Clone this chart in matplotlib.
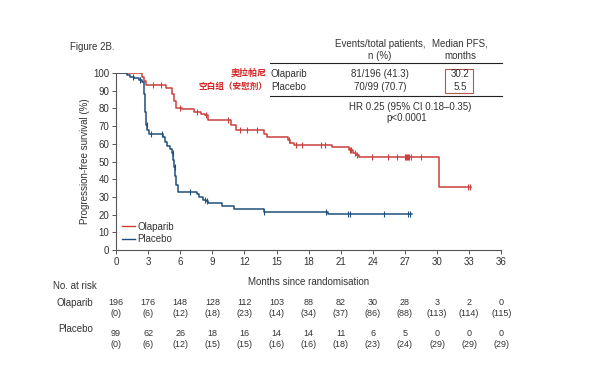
import numpy as np
import matplotlib
matplotlib.use("Agg")
import matplotlib.pyplot as plt
from matplotlib.lines import Line2D
from matplotlib.patches import Rectangle
from matplotlib.transforms import blended_transform_factory

plt.rcParams['font.family'] = ['Liberation Sans', 'Noto Sans CJK SC', 'DejaVu Sans']

# Kaplan-Meier steps (time a level starts, survival %)
ola_t = [0, 2.4, 2.6, 2.8, 4.7, 5.2, 5.4, 5.6, 6.2, 7.3, 7.9, 8.3, 8.6, 10.7, 11.2,
         13.8, 14.1, 16.1, 16.3, 16.6, 20.2, 21.8, 22.1, 22.4, 22.7, 30.2, 33.2]
ola_s = [100, 98, 95.5, 93, 91.5, 88, 84, 80.5, 79.5, 78, 77, 76, 73.4, 70.5, 67.8,
         65.5, 63.6, 62, 60.5, 59.3, 58, 56.5, 55, 53.5, 52.7, 35.4, 35.4]
ola_cens = [3.5, 4.2, 6.0, 7.6, 8.4, 10.5, 11.6, 12.2, 13.2, 16.2, 16.8, 17.4, 19.2,
            19.5, 21.9, 22.0, 22.3, 22.5, 23.9, 25.4, 26.3, 27.0, 27.1, 27.2, 27.3,
            27.4, 27.6, 28.5, 32.9, 33.1]

pla_t = [0, 1.0, 1.3, 1.7, 2.1, 2.4, 2.6, 2.7, 2.8, 2.9, 3.1, 4.4, 4.6, 4.8, 5.0,
         5.2, 5.35, 5.45, 5.55, 5.6, 5.8, 7.6, 7.8, 8.1, 8.4, 8.6, 9.9, 11.0, 13.8,
         19.8, 27.7]
pla_s = [100, 99, 98, 97, 96, 95, 88, 78, 70.6, 68, 65.5, 64, 61, 59, 57,
         55, 51, 47, 42, 36.5, 33, 31.6, 30, 28.5, 27.5, 26.4, 24.9, 23.2, 21.6,
         20.2, 20.2]
pla_cens = [1.6, 2.2, 2.85, 3.3, 4.3, 5.3, 5.5, 6.9, 8.3, 8.5, 13.8, 19.6, 21.7,
            21.9, 25.0, 27.3, 27.5]

# number at risk table
risk_months = list(range(0, 37, 3))
ola_risk = [196, 176, 148, 128, 112, 103, 88, 82, 30, 28, 3, 2, 0]
ola_cum = [0, 6, 12, 18, 23, 14, 34, 37, 86, 88, 113, 114, 115]
pla_risk = [99, 62, 26, 18, 16, 14, 14, 11, 6, 5, 0, 0, 0]
pla_cum = [0, 6, 12, 15, 15, 16, 16, 18, 23, 24, 29, 29, 29]

RED = '#c8413c'
BLUE = '#1f4f7c'
TXT = '#333333'


def level_at(t, times, surv):
    idx = np.searchsorted(times, t, side='right') - 1
    return np.asarray(surv)[idx]


fig = plt.figure(figsize=(5.89, 3.85), dpi=100)
ax = fig.add_axes([0.197, 0.3506, 0.654, 0.4598])

ax.step(ola_t, ola_s, where='post', color=RED, lw=1.1)
ax.step(pla_t, pla_s, where='post', color=BLUE, lw=1.1)
ax.plot(ola_cens, level_at(ola_cens, ola_t, ola_s), ls='none', marker='|',
        ms=4, mew=0.8, color=RED)
ax.plot(pla_cens, level_at(pla_cens, pla_t, pla_s), ls='none', marker='|',
        ms=4, mew=0.8, color=BLUE)

ax.set_xlim(0, 36)
ax.set_ylim(0, 100)
ax.set_xticks(risk_months)
ax.set_yticks(range(0, 101, 10))
for s in ['top', 'right']:
    ax.spines[s].set_visible(False)
for s in ['left', 'bottom']:
    ax.spines[s].set_color('#555555')
    ax.spines[s].set_linewidth(0.8)
ax.tick_params(direction='out', length=3, width=0.7, colors='#555555',
               labelsize=7, labelcolor=TXT, pad=2)
ax.set_xlabel('Months since randomisation', fontsize=7, color=TXT, labelpad=7)
ax.set_ylabel('Progression-free survival (%)', fontsize=7, color=TXT, labelpad=2)

handles = [Line2D([], [], color=RED, lw=1.0), Line2D([], [], color=BLUE, lw=1.0)]
ax.legend(handles, ['Olaparib', 'Placebo'], loc='lower left', frameon=False,
          fontsize=7, handlelength=1.4, handletextpad=0.2, labelspacing=0.25,
          bbox_to_anchor=(0.0, 0.0), borderaxespad=0.2, labelcolor=TXT)

# header / summary table
fig.text(0.119, 0.878, 'Figure 2B.', fontsize=7, color=TXT, va='center')
fig.text(0.645, 0.870, 'Events/total patients,\nn (%)', fontsize=7, color=TXT,
         ha='center', va='center', multialignment='center', linespacing=1.3)
fig.text(0.781, 0.870, 'Median PFS,\nmonths', fontsize=7, color=TXT,
         ha='center', va='center', multialignment='center', linespacing=1.3)
fig.add_artist(Line2D([0.458, 0.852], [0.836, 0.836], color='#222222', lw=0.8))
fig.add_artist(Line2D([0.458, 0.852], [0.751, 0.751], color='#222222', lw=0.8))

rows = [('Olaparib', '81/196 (41.3)', '30.2', 0.808),
        ('Placebo', '70/99 (70.7)', '5.5', 0.774)]
for name, ev, med, y in rows:
    fig.text(0.460, y, name, fontsize=7, color=TXT, va='center')
    fig.text(0.645, y, ev, fontsize=7, color=TXT, va='center', ha='center')
    fig.text(0.781, y, med, fontsize=7, color=TXT, va='center', ha='center')
fig.add_artist(Rectangle((0.756, 0.758), 0.047, 0.064, fill=False,
                         ec='#b5574b', lw=0.8, transform=fig.transFigure))

fig.text(0.452, 0.810, '奥拉帕尼', fontsize=6.5, color='#d42323', weight='bold',
         ha='right', va='center')
fig.text(0.454, 0.775, '空白组（安慰剂）', fontsize=6.2, color='#d42323',
         weight='bold', ha='right', va='center')

fig.text(0.696, 0.721, 'HR 0.25 (95% CI 0.18\u20130.35)', fontsize=7, color=TXT,
         ha='center', va='center')
fig.text(0.691, 0.693, 'p<0.0001', fontsize=7, color=TXT, ha='center', va='center')

# number at risk
tr = blended_transform_factory(ax.transData, fig.transFigure)
fig.text(0.090, 0.257, 'No. at risk', fontsize=7, color=TXT, va='center')
fig.text(0.158, 0.214, 'Olaparib', fontsize=7, color=TXT, va='center', ha='right')
fig.text(0.158, 0.145, 'Placebo', fontsize=7, color=TXT, va='center', ha='right')
for m, n, c in zip(risk_months, ola_risk, ola_cum):
    ax.text(m, 0.214, str(n), transform=tr, fontsize=6.5, color=TXT,
            ha='center', va='center')
    ax.text(m, 0.186, '(%d)' % c, transform=tr, fontsize=6.5, color=TXT,
            ha='center', va='center')
for m, n, c in zip(risk_months, pla_risk, pla_cum):
    ax.text(m, 0.134, str(n), transform=tr, fontsize=6.5, color=TXT,
            ha='center', va='center')
    ax.text(m, 0.104, '(%d)' % c, transform=tr, fontsize=6.5, color=TXT,
            ha='center', va='center')

fig.savefig('out.png', dpi=100)
